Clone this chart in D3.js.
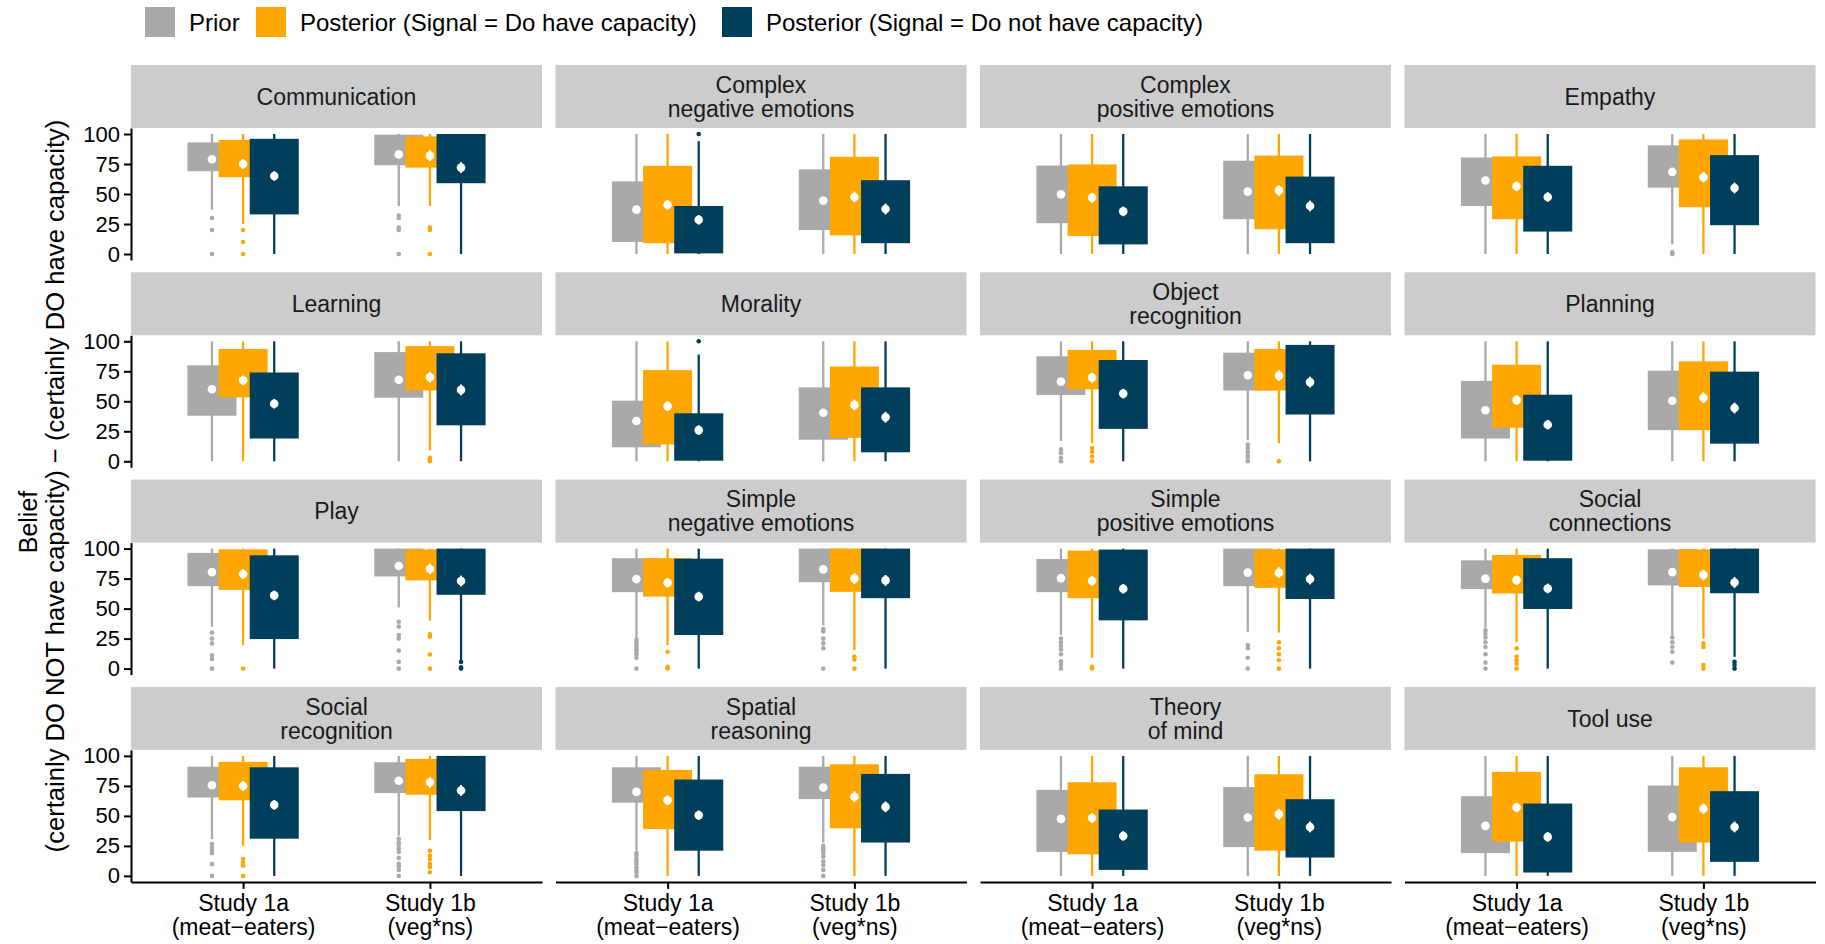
<!DOCTYPE html>
<html>
<head>
<meta charset="utf-8">
<script src="https://cdn.jsdelivr.net/npm/d3@7"></script>
<style>
  body { margin: 0; background: #fff; }
  text { font-family: "Liberation Sans", Arial, sans-serif; }
</style>
</head>
<body>
<div id="chart"></div>
<script>
const capacities = [
  "Communication", "Complex\nnegative emotions", "Complex\npositive emotions", "Empathy",
  "Learning", "Morality", "Object\nrecognition", "Planning",
  "Play", "Simple\nnegative emotions", "Simple\npositive emotions", "Social\nconnections",
  "Social\nrecognition", "Spatial\nreasoning", "Theory\nof mind", "Tool use"
];
const studies = ["Study 1a\n(meat\u2212eaters)", "Study 1b\n(veg*ns)"];
const seriesNames = ["Prior", "Posterior (Signal = Do have capacity)", "Posterior (Signal = Do not have capacity)"];
const seriesColors = ["#a9a9a9", "#ffa600", "#003f5c"];
const yTicks = [0, 25, 50, 75, 100];

// per capacity, per study: [lower whisker, Q1, Q3, upper whisker, mean]
const priorStats = [
  [[37, 69, 93, 100, 79], [40, 74, 99.5, 100, 83]],
  [[0, 10, 60.5, 100, 37], [0, 20, 70.5, 100, 44.5]],
  [[0, 25.7, 73.7, 100, 49.7], [0, 29, 77.7, 100, 52]],
  [[0, 40, 80.4, 100, 61.2], [8, 55.3, 90.5, 100, 68.4]],
  [[0, 38, 80, 100, 60], [0, 53, 91, 100, 68]],
  [[0, 11.7, 50.5, 100, 33.6], [0, 18, 61.6, 100, 40.5]],
  [[17, 55.3, 87.5, 100, 66.4], [17.5, 59, 90.5, 100, 71.7]],
  [[0, 19, 67, 100, 42.5], [0, 26, 75.5, 100, 50.5]],
  [[35, 68.7, 96.4, 100, 80.4], [51, 76.8, 100, 100, 85.5]],
  [[25, 63.7, 92, 100, 74.6], [36, 72, 100, 100, 82.7]],
  [[28, 63.7, 91.3, 100, 75.4], [30.7, 68.7, 100, 100, 80]],
  [[34, 66.2, 90.2, 100, 75], [28, 69.3, 99.4, 100, 80.4]],
  [[30.7, 65.3, 91, 100, 75.6], [33.5, 69, 94.7, 100, 79.3]],
  [[21, 61, 90.5, 100, 70], [27.8, 64, 91, 100, 73.6]],
  [[0, 20, 71.7, 100, 47.5], [0, 24, 74, 100, 48.6]],
  [[0, 19, 66.4, 100, 41.7], [0, 20, 75.3, 100, 49]]
];
const haveStats = [
  [[25, 64, 95, 100, 75], [40, 72, 98, 100, 82]],
  [[0, 9, 73.5, 100, 41], [0, 15.5, 81, 100, 47.5]],
  [[0, 15, 74.6, 100, 47], [0, 20.7, 82, 100, 53]],
  [[0, 29, 81.3, 100, 56.4], [0, 39, 95.5, 100, 64]],
  [[0, 53.3, 93.6, 100, 67.5], [9, 59, 96, 100, 70]],
  [[0, 14, 76, 100, 46], [0, 19.5, 79, 100, 47]],
  [[15, 60, 92.8, 100, 69.7], [15, 59, 93.6, 100, 71.4]],
  [[0, 28, 80.5, 100, 51], [0, 26, 83.3, 100, 53]],
  [[19.5, 65.6, 99.4, 100, 78.8], [40, 73.5, 99.4, 100, 83]],
  [[19.5, 60, 92, 100, 71.5], [15.4, 64, 100, 100, 75]],
  [[9, 58.7, 98.3, 100, 73.2], [30, 67.3, 99.4, 100, 80]],
  [[22, 62.6, 94.7, 100, 73.7], [25, 68, 99.4, 100, 78]],
  [[25, 63, 95, 100, 74.9], [30, 67.6, 97.5, 100, 78]],
  [[0, 39, 88.3, 100, 63], [0, 39.7, 93, 100, 66]],
  [[0, 18, 78, 100, 48.3], [0, 21, 84.7, 100, 51.4]],
  [[0, 28.6, 86.7, 100, 57], [0, 27.8, 90.5, 100, 56]]
];
const notStats = [
  [[0, 33, 96, 100, 65], [0, 59, 100, 100, 72]],
  [[0, 0.5, 40, 94, 28.5], [0, 9, 61.5, 100, 37.5]],
  [[0, 8, 56.4, 100, 35.5], [0, 9, 64.5, 100, 40]],
  [[0, 18.7, 73.5, 100, 47.5], [0, 24, 82.4, 100, 55]],
  [[0, 19, 74, 100, 48], [0, 30, 90, 100, 59.5]],
  [[0, 0.5, 40, 89, 26], [0, 7.5, 61.6, 100, 36.7]],
  [[0, 27, 84.4, 100, 56.4], [0, 39, 97, 100, 66]],
  [[0, 0.5, 55.5, 100, 30.5], [0, 14.7, 74.7, 100, 44.4]],
  [[0, 24.6, 94.4, 100, 61], [7, 61.5, 100, 100, 73]],
  [[0, 28, 91.6, 100, 60], [0, 58.7, 100, 100, 73.5]],
  [[0, 40.2, 99.2, 100, 66.5], [0, 58, 100, 100, 74.6]],
  [[0, 49.7, 92, 100, 66.8], [9.8, 62.8, 100, 100, 71.8]],
  [[0, 31, 90.5, 100, 59.2], [0, 54, 100, 100, 71.2]],
  [[0, 21, 80.3, 100, 50.6], [0, 27.8, 85, 100, 57.5]],
  [[0, 5, 55.3, 100, 33.3], [0, 15.3, 63.9, 100, 40.8]],
  [[0, 2.8, 60.3, 100, 32.5], [0, 11.7, 70.6, 100, 40.8]]
];

// outlying responses per capacity, per study
const priorOutliers = [
  [[30, 20, 0], [32, 30, 22, 20, 0]],
  [[], []], [[], []],
  [[], [1.5, 0]],
  [[], []], [[], []],
  [[10, 7, 3, 0], [14, 11, 8, 5, 3, 0]],
  [[], []],
  [[30, 25, 21, 11, 8, 0], [39, 35, 28, 25, 15, 5.6, 0]],
  [[24, 22, 20, 18, 16, 14, 12, 9, 0], [33, 31, 25, 21, 17, 0]],
  [[25, 22, 19, 16, 12, 6, 3, 0], [19.5, 17, 9, 0]],
  [[32, 29, 26, 22, 18, 12, 5, 0], [26, 22, 18, 14, 5]],
  [[26.5, 23.7, 21, 19, 9.8, 0], [31, 28, 26, 23, 20, 15, 10, 8, 5, 0]],
  [[19, 17, 14, 12, 10, 7, 5, 3, 0], [25, 23, 21, 19, 16, 12, 9, 5, 0]],
  [[], []], [[], []]
];
const haveOutliers = [
  [[20, 10, 0], [22, 20, 0]],
  [[], []], [[], []], [[], []],
  [[], [3, 1.5, 0]],
  [[], []],
  [[11, 8, 4, 0], [0]],
  [[], []],
  [[0], [28.5, 26.5, 11.7, 0]],
  [[14, 1.4, 0], [10, 7.5, 0]],
  [[1.4, 0], [22, 17, 12, 7, 0]],
  [[17, 10, 7, 4, 0], [21, 18, 3, 0]],
  [[14, 11, 8.4, 0], [21, 17, 14, 10, 7.5, 3]],
  [[], []], [[], []], [[], []]
];
const notOutliers = [
  [[], []],
  [[100], []],
  [[], []], [[], []], [[], []],
  [[100], []],
  [[], []], [[], []],
  [[], [5.6, 1, 0]],
  [[], []], [[], []],
  [[], [5.6, 3, 0]],
  [[], []], [[], []], [[], []], [[], []]
];
// half length of the error bar on each mean, per study and series
const meanCI = [[2.5, 4, 4], [3, 4.5, 4.5]];

const W = 1825, H = 944;
const left = 131, panelW = 411, gapX = 13.5;
const top0 = 65, stripH = 63, panelH = 132, rowStep = 207.3;
const allStats = [priorStats, haveStats, notStats];
const allOutliers = [priorOutliers, haveOutliers, notOutliers];

const svg = d3.select('#chart').append('svg')
  .attr('width', W)
  .attr('height', H);

const x = d3.scalePoint().domain(studies).range([0, panelW]).padding(0.6);
const dodge = d3.scalePoint().domain(seriesNames).range([-x.step() / 6, x.step() / 6]);
const boxW = x.step() * 0.2625;
const y = d3.scaleLinear().domain([-5, 105]).range([panelH, 0]);

capacities.forEach((cap, i) => {
  const r = Math.floor(i / 4), c = i % 4;
  const g = svg.append('g')
    .attr('transform', `translate(${left + c * (panelW + gapX)},${top0 + r * rowStep + stripH})`);

  // strip
  g.append('rect')
    .attr('x', 0).attr('y', -stripH)
    .attr('width', panelW).attr('height', stripH)
    .attr('fill', '#cccccc');
  const lines = cap.split('\n');
  const st = g.append('text')
    .attr('text-anchor', 'middle')
    .attr('font-size', 23)
    .attr('fill', '#1a1a1a');
  lines.forEach((ln, k) => {
    st.append('tspan')
      .attr('x', panelW / 2)
      .attr('y', -stripH / 2 + 8.2 + (k - (lines.length - 1) / 2) * 24)
      .text(ln);
  });

  // boxes: outliers, whisker, box
  studies.forEach((s, j) => {
    seriesNames.forEach((sn, k) => {
      const [lo, q1, q3, hi] = allStats[k][i][j];
      const cx = x(s) + dodge(sn);
      const col = seriesColors[k];
      g.selectAll(null)
        .data(allOutliers[k][i][j])
        .join('circle')
        .attr('cx', cx)
        .attr('cy', d => y(d))
        .attr('r', 2.3)
        .attr('fill', col);
      g.append('line')
        .attr('x1', cx).attr('x2', cx)
        .attr('y1', y(lo)).attr('y2', y(hi))
        .attr('stroke', col)
        .attr('stroke-width', 2.3);
      g.append('rect')
        .attr('x', cx - boxW / 2)
        .attr('y', y(q3))
        .attr('width', boxW)
        .attr('height', y(q1) - y(q3))
        .attr('fill', col);
    });
  });

  // means
  studies.forEach((s, j) => {
    seriesNames.forEach((sn, k) => {
      const m = allStats[k][i][j][4];
      const ci = meanCI[j][k];
      const cx = x(s) + dodge(sn);
      g.append('line')
        .attr('x1', cx).attr('x2', cx)
        .attr('y1', y(m - ci)).attr('y2', y(m + ci))
        .attr('stroke', '#fff')
        .attr('stroke-width', 2);
      g.append('circle')
        .attr('cx', cx).attr('cy', y(m))
        .attr('r', 4.3)
        .attr('fill', '#fff');
    });
  });

  if (c === 0) {
    const ay = g.append('g')
      .call(d3.axisLeft(y).tickValues(yTicks).tickSize(7).tickSizeOuter(0).tickPadding(4));
    ay.select('.domain').attr('stroke', '#000').attr('stroke-width', 2);
    ay.selectAll('.tick line').attr('stroke', '#000').attr('stroke-width', 2);
    ay.selectAll('.tick text')
      .attr('font-size', 22)
      .attr('font-family', '"Liberation Sans", Arial, sans-serif')
      .attr('fill', '#000');
  }

  if (r === 3) {
    const ax = g.append('g')
      .attr('transform', `translate(0,${panelH})`)
      .call(d3.axisBottom(x).tickSize(7).tickSizeOuter(0));
    ax.select('.domain').attr('stroke', '#000').attr('stroke-width', 2);
    ax.selectAll('.tick line').attr('stroke', '#000').attr('stroke-width', 2);
    ax.selectAll('.tick text').each(function(d) {
      const t = d3.select(this)
        .text(null)
        .attr('y', null).attr('dy', null)
        .attr('font-size', 23)
        .attr('font-family', '"Liberation Sans", Arial, sans-serif')
        .attr('fill', '#000');
      d.split('\n').forEach((ln, k) => {
        t.append('tspan').attr('x', 0).attr('y', 29 + k * 24).text(ln);
      });
    });
  }
});

// y axis title
svg.append('text')
  .attr('transform', 'translate(37,522) rotate(-90)')
  .attr('text-anchor', 'middle')
  .attr('font-size', 25)
  .attr('fill', '#000')
  .text('Belief');
svg.append('text')
  .attr('transform', 'translate(64,486) rotate(-90)')
  .attr('text-anchor', 'middle')
  .attr('font-size', 25.6)
  .attr('fill', '#000')
  .text('(certainly DO NOT have capacity) \u2212 (certainly DO have capacity)');

// legend
const legendX = [145, 256, 722];
const legend = svg.append('g');
seriesNames.forEach((sn, k) => {
  legend.append('rect')
    .attr('x', legendX[k]).attr('y', 7)
    .attr('width', 30).attr('height', 30)
    .attr('fill', seriesColors[k]);
  legend.append('text')
    .attr('x', legendX[k] + 44).attr('y', 30.5)
    .attr('font-size', 24)
    .attr('fill', '#000')
    .text(sn);
});
</script>
</body>
</html>
